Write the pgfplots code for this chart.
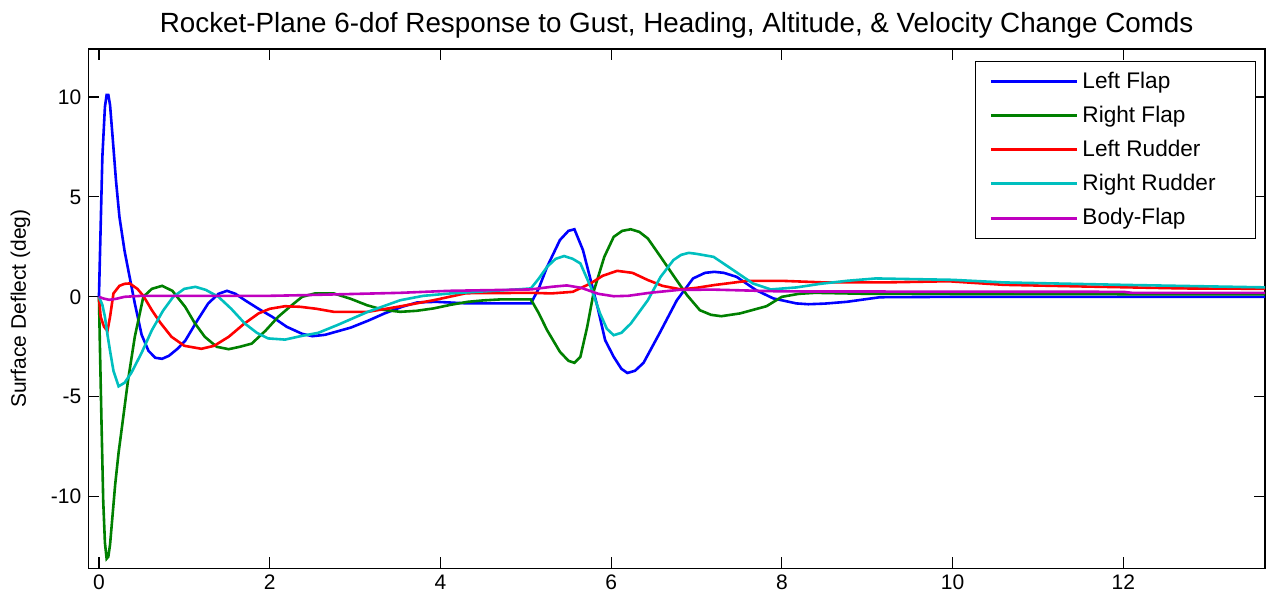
\documentclass[border=0pt]{standalone}
\usepackage{pgfplots}
\pgfplotsset{compat=1.18}
\usepackage{fontspec}
\setmainfont{Liberation Sans}
\definecolor{mgreen}{rgb}{0,0.5,0}
\definecolor{mcyan}{rgb}{0,0.75,0.75}
\definecolor{mmag}{rgb}{0.75,0,0.75}
\newcommand{\legtxt}[1]{\makebox[77.5pt][l]{#1}}
\begin{document}
\begin{tikzpicture}
\begin{axis}[
  scale only axis, width=588.5pt, height=259.7pt,
  xmin=-0.125, xmax=13.66, ymin=-13.58, ymax=12.4,
  xtick={0,2,4,6,8,10,12}, ytick={-10,-5,0,5,10},
  tick align=inside, xtick pos=both, ytick pos=both,
  major tick length=5.5pt,
  tick style={black, line width=0.6pt},
  axis line style={black, line width=0.7pt},
  /pgf/number format/assume math mode=true,
  tick label style={font=\fontsize{10.5}{12}\selectfont},
  title={Rocket-Plane 6-dof Response to Gust, Heading, Altitude, \& Velocity Change Comds},
  title style={font=\fontsize{13.9}{16}\selectfont, at={(axis description cs:0.5,1)}, anchor=base, yshift=2pt},
  ylabel={Surface Deflect (deg)},
  ylabel style={font=\fontsize{10.5}{12}\selectfont, at={(axis description cs:-0.0577,0.5)}, anchor=center, rotate=0},
  legend style={at={(axis description cs:1,1)}, anchor=north east, xshift=-4.5pt, yshift=-6pt,
    draw=black, line width=0.6pt, fill=white, font=\fontsize{11.3}{13}\selectfont,
    inner xsep=7pt, inner ysep=3.25pt, row sep=3.35pt,
    /tikz/every odd column/.append style={column sep=0pt}},
  legend cell align=left,
  legend image code/.code={\draw[#1, line width=1.5pt] (0pt,0pt) -- (43pt,0pt);},
  every axis plot/.append style={line width=1.3pt},
]
\addplot[blue] coordinates {
(0,0) (0.02,3.5) (0.04,7) (0.07,9.5) (0.09,10.1) (0.11,10.1) (0.13,9.6) (0.16,8.0)
(0.2,5.8) (0.24,4.0) (0.3,2.3) (0.35,1.2) (0.42,-0.33) (0.5,-1.9) (0.58,-2.7) (0.66,-3.05)
(0.74,-3.1) (0.82,-2.95) (0.92,-2.6) (1.01,-2.2) (1.15,-1.2) (1.28,-0.33) (1.4,0.15) (1.5,0.3)
(1.6,0.15) (1.71,-0.17) (1.87,-0.6) (2.03,-1.0) (2.2,-1.5) (2.38,-1.85) (2.5,-1.97) (2.65,-1.9)
(2.95,-1.54) (3.15,-1.2) (3.34,-0.84) (3.55,-0.5) (3.73,-0.28) (3.95,-0.25) (4.32,-0.33) (5.06,-0.33)
(5.15,0.4) (5.25,1.5) (5.4,2.84) (5.5,3.3) (5.57,3.38) (5.67,2.34) (5.76,0.84) (5.84,-0.5)
(5.93,-2.17) (6.03,-3.0) (6.12,-3.6) (6.19,-3.81) (6.28,-3.7) (6.38,-3.3) (6.57,-1.8) (6.77,-0.17)
(6.96,0.92) (7.1,1.2) (7.21,1.25) (7.32,1.2) (7.47,1.0) (7.7,0.33) (7.9,-0.08) (8.17,-0.33)
(8.31,-0.37) (8.5,-0.34) (8.76,-0.25) (9.15,-0.02) (10,0.0) (13.7,0.0)
};
\addlegendentry{\legtxt{Left Flap}}
\addplot[mgreen] coordinates {
(0,0) (0.01,-2.2) (0.03,-6.3) (0.05,-10.2) (0.07,-12.3) (0.09,-13.1) (0.11,-13.0) (0.13,-12.4)
(0.16,-10.9) (0.19,-9.4) (0.23,-7.8) (0.27,-6.5) (0.34,-4.2) (0.42,-2.0) (0.52,0) (0.62,0.4)
(0.74,0.55) (0.86,0.3) (1.01,-0.5) (1.12,-1.3) (1.24,-2.0) (1.38,-2.5) (1.52,-2.62) (1.65,-2.5)
(1.79,-2.34) (1.95,-1.7) (2.1,-1.0) (2.25,-0.45) (2.38,0) (2.53,0.17) (2.75,0.17) (2.95,-0.1)
(3.14,-0.42) (3.33,-0.65) (3.53,-0.75) (3.72,-0.7) (3.92,-0.58) (4.12,-0.4) (4.32,-0.25) (4.5,-0.18)
(4.7,-0.13) (5.06,-0.13) (5.15,-0.8) (5.25,-1.67) (5.4,-2.75) (5.5,-3.2) (5.57,-3.3) (5.64,-3.0)
(5.72,-1.5) (5.8,0.33) (5.92,2.0) (6.03,3.0) (6.13,3.3) (6.23,3.38) (6.33,3.25) (6.43,2.92)
(6.58,2.0) (6.74,1.0) (6.89,0.08) (7.04,-0.67) (7.17,-0.9) (7.29,-0.97) (7.51,-0.83) (7.82,-0.47)
(8.0,0) (8.2,0.15) (8.39,0.2) (9,0.15) (13.7,0.12)
};
\addlegendentry{\legtxt{Right Flap}}
\addplot[red] coordinates {
(0,0) (0.02,-1.0) (0.06,-1.5) (0.1,-1.7) (0.13,-1.0) (0.17,0.17) (0.24,0.55) (0.3,0.65)
(0.36,0.67) (0.45,0.4) (0.52,0.05) (0.62,-0.67) (0.72,-1.3) (0.85,-2.0) (1.0,-2.45) (1.2,-2.6)
(1.35,-2.45) (1.52,-2.0) (1.7,-1.35) (1.87,-0.83) (2.0,-0.6) (2.18,-0.47) (2.36,-0.5) (2.55,-0.6)
(2.75,-0.75) (3.15,-0.75) (3.5,-0.5) (3.92,-0.17) (4.3,0.18) (5.06,0.2) (5.3,0.17) (5.55,0.25)
(5.76,0.67) (5.9,1.05) (6.07,1.3) (6.25,1.2) (6.43,0.84) (6.6,0.55) (6.82,0.37) (7.0,0.45)
(7.21,0.59) (7.6,0.8) (8.0,0.8) (8.5,0.72) (9.2,0.72) (9.95,0.78) (10.6,0.6) (11.5,0.52)
(12.7,0.42) (13.7,0.4)
};
\addlegendentry{\legtxt{Left Rudder}}
\addplot[mcyan] coordinates {
(0,0) (0.04,-0.4) (0.07,-1.0) (0.1,-1.9) (0.13,-2.7) (0.17,-3.7) (0.23,-4.48) (0.3,-4.3)
(0.38,-3.8) (0.5,-2.8) (0.62,-1.67) (0.75,-0.7) (0.87,0) (1.0,0.4) (1.13,0.5) (1.25,0.35)
(1.4,0) (1.55,-0.6) (1.71,-1.34) (1.85,-1.8) (1.98,-2.08) (2.18,-2.14) (2.36,-1.97) (2.57,-1.8)
(2.8,-1.4) (3.15,-0.75) (3.53,-0.17) (3.8,0.05) (4.12,0.17) (4.5,0.27) (4.9,0.37) (5.06,0.42)
(5.15,0.9) (5.25,1.5) (5.35,1.9) (5.45,2.04) (5.55,1.9) (5.64,1.67) (5.76,0.5) (5.87,-0.83)
(5.95,-1.6) (6.03,-1.92) (6.12,-1.8) (6.23,-1.34) (6.43,-0.17) (6.58,1.0) (6.73,1.84) (6.82,2.1)
(6.91,2.2) (7.0,2.15) (7.2,2.0) (7.43,1.34) (7.66,0.67) (7.87,0.37) (8.17,0.47) (8.45,0.65)
(8.76,0.8) (9.1,0.92) (10,0.85) (10.6,0.72) (12.1,0.59) (13.7,0.47)
};
\addlegendentry{\legtxt{Right Rudder}}
\addplot[mmag] coordinates {
(0,0) (0.05,-0.08) (0.12,-0.15) (0.2,-0.1) (0.3,0.0) (0.5,0.05) (2.0,0.05) (2.36,0.08)
(3.53,0.2) (4.1,0.3) (5.06,0.37) (5.3,0.5) (5.48,0.57) (5.65,0.45) (5.85,0.15) (6.03,0.03)
(6.2,0.05) (6.45,0.2) (6.8,0.35) (7.2,0.36) (8.0,0.27) (12.0,0.25) (12.1,0.2) (13.7,0.2)
};
\addlegendentry{\legtxt{Body-Flap}}
\end{axis}
\pgfresetboundingbox
\path[use as bounding box] ([xshift=-44.15pt,yshift=-17.35pt]current axis.south west) rectangle ([xshift=2pt,yshift=24.5pt]current axis.north east);
\end{tikzpicture}
\end{document}
